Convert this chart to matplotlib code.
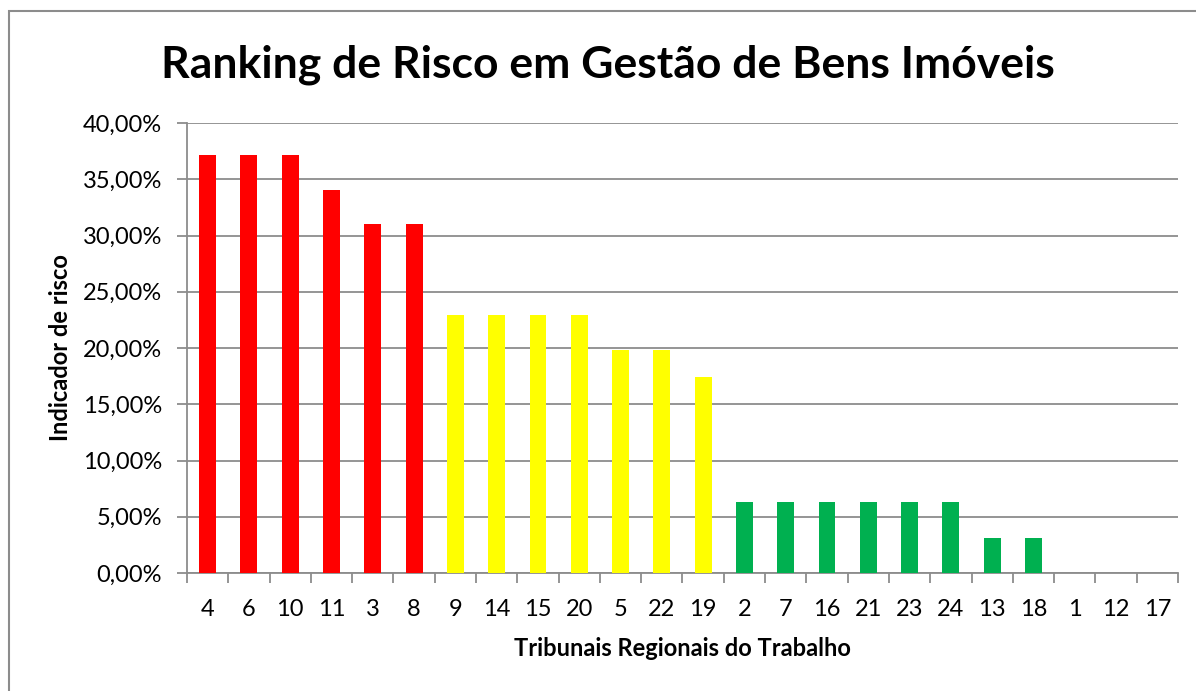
import matplotlib
matplotlib.use("Agg")
import matplotlib.pyplot as plt
from matplotlib.patches import Rectangle
from matplotlib.ticker import FuncFormatter, MultipleLocator, FixedLocator

plt.rcParams["font.family"] = ["Lato", "DejaVu Sans"]

tribunais = ["4", "6", "10", "11", "3", "8", "9", "14", "15", "20", "5", "22",
             "19", "2", "7", "16", "21", "23", "24", "13", "18", "1", "12", "17"]
risco = [37.14, 37.14, 37.14, 34.05, 31.0, 31.0, 22.9, 22.9, 22.9, 22.9, 19.8, 19.8,
         17.4, 6.3, 6.3, 6.3, 6.3, 6.3, 6.3, 3.1, 3.1, 0.0, 0.0, 0.0]
faixa = ["alto"] * 6 + ["medio"] * 7 + ["baixo"] * 11
cores = {"alto": "#FF0000", "medio": "#FFFF00", "baixo": "#00B050"}

fig = plt.figure(figsize=(11.96, 6.91), dpi=100)
fig.patches.append(Rectangle((9 / 1196, -0.1), 1.2, 1 - 11 / 691 + 0.1,
                             transform=fig.transFigure, fill=False,
                             edgecolor="#8c8c8c", linewidth=1.5))

ax = fig.add_axes([187 / 1196, 1 - 573 / 691, (1178 - 187) / 1196, (573 - 123) / 691])

x = list(range(len(tribunais)))
ax.bar(x, risco, width=0.41, color=[cores[f] for f in faixa], zorder=3)

ax.set_xlim(-0.5, len(tribunais) - 0.5)
ax.set_ylim(0, 40)
ax.yaxis.set_major_locator(MultipleLocator(5))
ax.yaxis.set_major_formatter(FuncFormatter(lambda v, p: f"{v:.2f}%".replace(".", ",")))
ax.grid(axis="y", color="#8c8c8c", linewidth=1.3, zorder=0)

ax.set_xticks(x)
ax.set_xticklabels(tribunais)
ax.xaxis.set_minor_locator(FixedLocator([i - 0.5 for i in range(len(tribunais) + 1)]))
ax.tick_params(axis="x", which="major", length=0, pad=19, labelsize=17)
ax.tick_params(axis="x", which="minor", length=7, width=1.3, color="#8c8c8c")
ax.tick_params(axis="y", length=7, width=1.3, color="#8c8c8c", labelsize=17, pad=11)

for side in ["top", "right"]:
    ax.spines[side].set_visible(False)
ax.spines["left"].set_color("#8c8c8c")
ax.spines["left"].set_linewidth(1.3)
ax.spines["bottom"].set_color("#8c8c8c")
ax.spines["bottom"].set_linewidth(1.3)

ax.set_xlabel("Tribunais Regionais do Trabalho", fontsize=17, fontweight="bold", labelpad=12)
ax.set_ylabel("Indicador de risco", fontsize=17, fontweight="bold", labelpad=8)

fig.text(608 / 1196, 1 - 65 / 691, "Ranking de Risco em Gestão de Bens Imóveis",
         ha="center", va="center", fontsize=32, fontweight="bold")

fig.savefig("out.png", dpi=100)
